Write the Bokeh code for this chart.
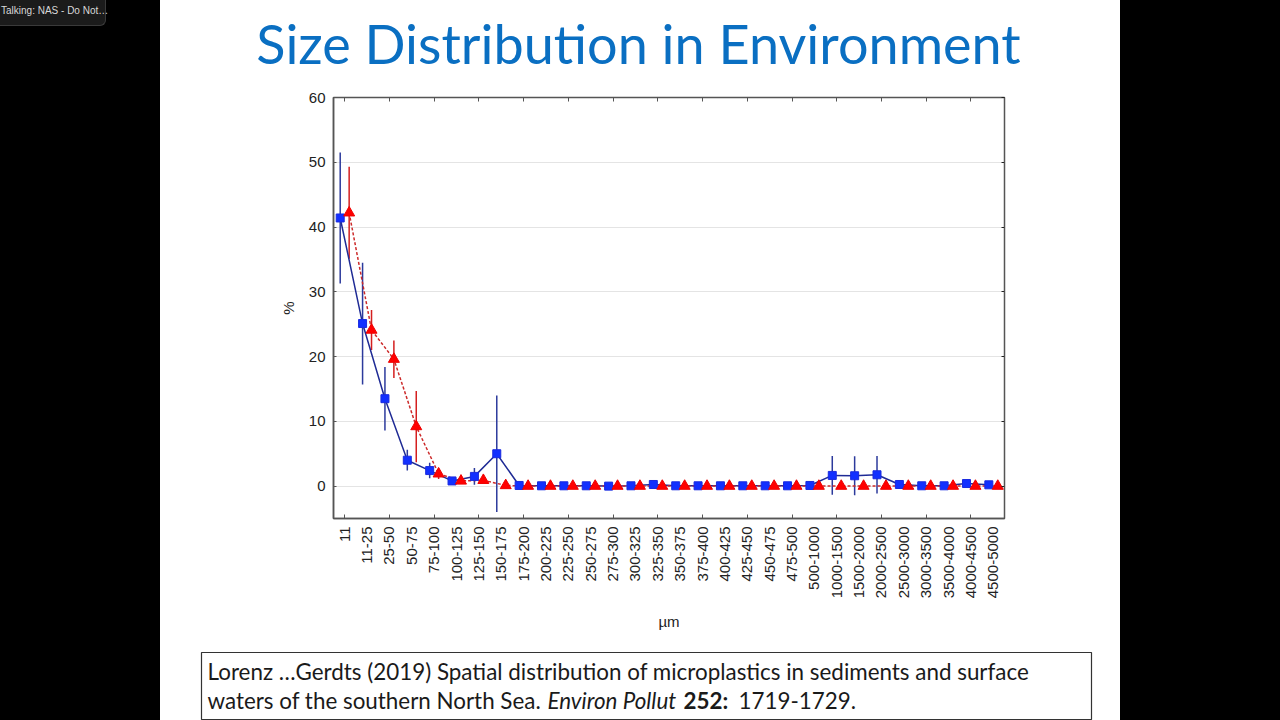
import math
import numpy as np
from bokeh.plotting import figure
from bokeh.models import (ColumnDataSource, Range1d, FixedTicker, LinearAxis,
                          Label, Div)
from bokeh.layouts import row, column
from bokeh.embed import file_html
from bokeh.resources import INLINE

# Size classes (µm)
categories = ["11", "11-25", "25-50", "50-75", "75-100", "100-125", "125-150",
              "150-175", "175-200", "200-225", "225-250", "250-275", "275-300",
              "300-325", "325-350", "350-375", "375-400", "400-425", "425-450",
              "450-475", "475-500", "500-1000", "1000-1500", "1500-2000",
              "2000-2500", "2500-3000", "3000-3500", "3500-4000", "4000-4500",
              "4500-5000"]

# Sediment samples: mean share (%) and error
sediment_pct = [41.4, 25.1, 13.5, 4.0, 2.4, 0.8, 1.5, 5.0, 0.1, 0.05,
                0.05, 0.05, 0.0, 0.05, 0.25, 0.05, 0.05, 0.05, 0.05, 0.05,
                0.05, 0.1, 1.65, 1.6, 1.75, 0.25, 0.05, 0.05, 0.4, 0.2]
sediment_err = [10.1, 9.4, 4.9, 1.6, 1.2, 0.2, 1.3, 9.0, 0.1, 0.0,
                0.0, 0.0, 0.0, 0.0, 0.0, 0.0, 0.0, 0.0, 0.0, 0.0,
                0.0, 0.0, 3.0, 3.0, 2.9, 0.0, 0.0, 0.0, 0.0, 0.0]

# Surface water samples: mean share (%) and error
water_pct = [42.2, 24.1, 19.6, 9.2, 1.9, 0.8, 0.9, 0.1, 0.0, 0.0,
             0.0, 0.0, 0.0, 0.0, 0.0, 0.0, 0.0, 0.0, 0.0, 0.0,
             0.0, 0.0, 0.0, 0.0, 0.0, 0.0, 0.0, 0.0, 0.0, 0.0]
water_err = [7.1, 3.1, 2.9, 5.5, 0.8, 0.2, 0.2, 0.0, 0.0, 0.0,
             0.0, 0.0, 0.0, 0.0, 0.0, 0.0, 0.0, 0.0, 0.0, 0.0,
             0.0, 0.0, 0.0, 0.0, 0.0, 0.0, 0.0, 0.0, 0.0, 0.0]

y_ticks = [0, 10, 20, 30, 40, 50, 60]

pos = np.arange(1, len(categories) + 1)
dodge = 0.2


def make_source(pct, err, shift):
    pct = np.array(pct, dtype=float)
    err = np.array(err, dtype=float)
    return ColumnDataSource(dict(x=pos + shift, y=pct, lo=pct - err, hi=pct + err))


sed = make_source(sediment_pct, sediment_err, -dodge)
wat = make_source(water_pct, water_err, dodge)

TICK_FONT = "Liberation Sans"
AX = "#555555"
SLIDE_W = 960


def blank_panel(height, **borders):
    f = figure(width=SLIDE_W, height=height, output_backend="svg", toolbar_location=None,
               x_axis_location=None, y_axis_location=None, frame_align=False,
               x_range=Range1d(0, 1), y_range=Range1d(0, 1), **borders)
    f.grid.visible = False
    f.background_fill_color = "white"
    f.border_fill_color = "white"
    return f


# ---- slide title ----
head = blank_panel(80, min_border=0)
head.outline_line_color = None
head.add_layout(Label(x=478, y=37, x_units="screen", y_units="screen",
                      text="Size Distribution in Environment", text_align="center",
                      text_baseline="alphabetic", text_font="Lato",
                      text_font_size="54px", text_color="#0a6fc2"))

# ---- chart ----
p = figure(width=SLIDE_W, height=565, output_backend="svg", toolbar_location=None,
           frame_align=False,
           x_range=Range1d(0.5, len(categories) + 0.5), y_range=Range1d(-5, 60),
           min_border_left=173, min_border_right=116, min_border_top=17,
           min_border_bottom=127)
p.background_fill_color = "white"
p.border_fill_color = "white"
p.outline_line_color = AX
p.outline_line_width = 1.5

# category axis: a label for every class, tick marks on every second one
xa = p.xaxis[0]
xa.ticker = FixedTicker(ticks=[int(v) for v in pos], minor_ticks=[int(v) for v in pos[::2]])
xa.major_label_overrides = {int(i): c for i, c in zip(pos, categories)}
xa.major_label_orientation = math.pi / 2
xa.major_tick_in = 0
xa.major_tick_out = 0
xa.minor_tick_in = 4
xa.minor_tick_out = 0
xa.minor_tick_line_color = AX
xa.axis_line_color = AX
xa.axis_line_width = 1.5
xa.major_label_standoff = 8
xa.major_label_text_font = TICK_FONT
xa.major_label_text_font_size = "15px"
xa.major_label_text_color = "#222222"
xa.axis_label = "µm"
xa.axis_label_text_font = TICK_FONT
xa.axis_label_text_font_size = "15px"
xa.axis_label_text_font_style = "normal"
xa.axis_label_text_color = "#222222"
xa.axis_label_standoff = 12

ya = p.yaxis[0]
ya.ticker = FixedTicker(ticks=y_ticks, minor_ticks=[])
ya.major_tick_in = 3
ya.major_tick_out = 0
ya.major_tick_line_color = AX
ya.axis_line_color = AX
ya.axis_line_width = 1.5
ya.major_label_standoff = 8
ya.major_label_text_font = TICK_FONT
ya.major_label_text_font_size = "15px"
ya.major_label_text_color = "#222222"
ya.axis_label = "%"
ya.axis_label_text_font = TICK_FONT
ya.axis_label_text_font_size = "15px"
ya.axis_label_text_font_style = "normal"
ya.axis_label_text_color = "#222222"
ya.axis_label_standoff = 9

top_axis = LinearAxis(ticker=FixedTicker(ticks=[], minor_ticks=[int(v) for v in pos[::2]]),
                      minor_tick_in=4, minor_tick_out=0, minor_tick_line_color=AX,
                      major_tick_in=0, major_tick_out=0, axis_line_color=None)
p.add_layout(top_axis, "above")
right_axis = LinearAxis(ticker=FixedTicker(ticks=[], minor_ticks=y_ticks),
                        minor_tick_in=3, minor_tick_out=0, minor_tick_line_color="#222222",
                        major_tick_in=0, major_tick_out=0, axis_line_color=None)
p.add_layout(right_axis, "right")

p.xgrid.visible = False
p.ygrid.ticker = FixedTicker(ticks=y_ticks)
p.ygrid.grid_line_color = "#e4e4e4"
p.ygrid.grid_line_width = 1

# error bars
p.segment(x0="x", y0="lo", x1="x", y1="hi", source=sed, line_color="#2c3a9c", line_width=1.5)
p.segment(x0="x", y0="lo", x1="x", y1="hi", source=wat, line_color="#d41f1f", line_width=1.5)

# connecting lines
p.line("x", "y", source=sed, line_color="#1f2b95", line_width=1.5)
p.line("x", "y", source=wat, line_color="#cc2a2a", line_width=1.5, line_dash="3 2")

# markers
p.scatter("x", "y", source=sed, marker="square", size=8,
          fill_color="#1230ff", line_color="#1a2be0")
p.scatter("x", "y", source=wat, marker="triangle", size=11,
          fill_color="#ff0000", line_color="#ee0000")

# ---- reference box ----
cite = blank_panel(75, min_border_left=41, min_border_right=29,
                   min_border_top=7, min_border_bottom=1)
cite.outline_line_color = "#333333"
cite.outline_line_width = 1.2

CITE = dict(x_units="screen", y_units="screen", text_baseline="alphabetic",
            text_font="Lato", text_font_size="22.4px", text_color="#1a1a1a")
cite.add_layout(Label(x=6, y=48, text="Lorenz …Gerdts (2019) Spatial distribution of "
                      "microplastics in sediments and surface", **CITE))
cite.add_layout(Label(x=6, y=19, text="waters of the southern North Sea.", **CITE))
cite.add_layout(Label(x=346, y=19, text="Environ Pollut", text_font_style="italic", **CITE))
cite.add_layout(Label(x=482, y=19, text="252:", text_font_style="bold", **CITE))
cite.add_layout(Label(x=537, y=19, text="1719-1729.", **CITE))

left_side = Div(width=160, height=720,
                text='<div style="position:absolute;left:0;top:0;width:106px;height:26px;'
                     'background:#1b1b1b;border:1px solid #3a3a3a;border-top:none;border-left:none;'
                     'border-bottom-right-radius:6px;color:#d8d8d8;font:10px \'Liberation Sans\';'
                     'line-height:22px;padding-left:1px;white-space:nowrap;">Talking: NAS - Do Not…</div>',
                styles={"background-color": "black", "margin": "0", "padding": "0",
                        "position": "relative"})
right_side = Div(width=160, height=720, text="",
                 styles={"background-color": "black", "margin": "0", "padding": "0"})

slide = column(head, p, cite, spacing=0)
page = row(left_side, slide, right_side, spacing=0)

open("out.html", "w").write(file_html(page, INLINE))
